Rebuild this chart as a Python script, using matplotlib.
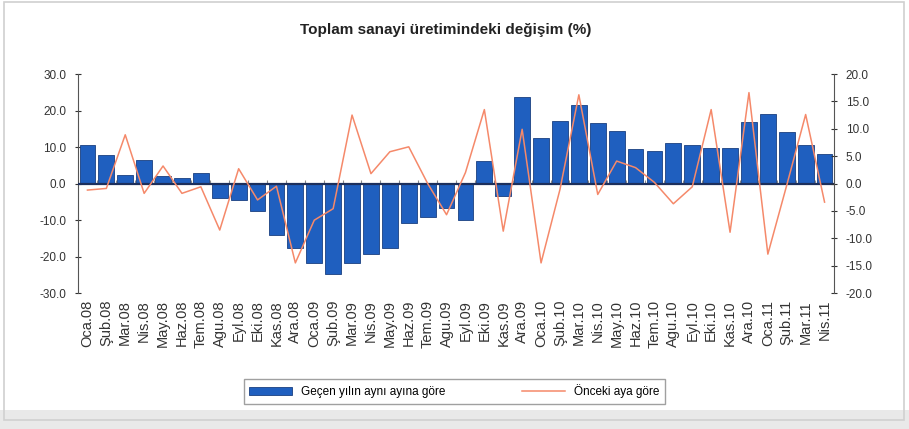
import numpy as np
import matplotlib
matplotlib.use("Agg")
import matplotlib.pyplot as plt
from matplotlib.patches import Rectangle

plt.rcParams['font.family'] = ['Liberation Sans', 'DejaVu Sans']

months = ["Oca.08", "Şub.08", "Mar.08", "Nis.08", "May.08", "Haz.08", "Tem.08", "Agu.08", "Eyl.08", "Eki.08",
          "Kas.08", "Ara.08", "Oca.09", "Şub.09", "Mar.09", "Nis.09", "May.09", "Haz.09", "Tem.09", "Agu.09",
          "Eyl.09", "Eki.09", "Kas.09", "Ara.09", "Oca.10", "Şub.10", "Mar.10", "Nis.10", "May.10", "Haz.10",
          "Tem.10", "Agu.10", "Eyl.10", "Eki.10", "Kas.10", "Ara.10", "Oca.11", "Şub.11", "Mar.11", "Nis.11"]

# gecen yilin ayni ayina gore (sol eksen)
yoy = [10.6, 7.8, 2.3, 6.4, 2.1, 1.4, 2.9, -4.1, -4.6, -7.6,
       -14.2, -17.6, -21.9, -24.7, -21.9, -19.2, -17.8, -10.9, -9.2, -6.7,
       -10.1, 6.1, -3.5, 23.6, 12.4, 17.2, 21.6, 16.5, 14.4, 9.4,
       9.0, 11.2, 10.5, 9.6, 9.6, 16.8, 19.0, 14.0, 10.5, 8.2]

# onceki aya gore (sag eksen)
mom = [-1.2, -0.9, 8.9, -1.8, 3.2, -1.8, -0.6, -8.5, 2.7, -3.0,
       -0.5, -14.5, -6.7, -4.6, 12.5, 1.8, 5.8, 6.7, 0.0, -5.7,
       2.0, 13.5, -8.7, 9.9, -14.5, -1.1, 16.2, -2.0, 4.1, 2.9,
       0.2, -3.7, -0.6, 13.5, -8.9, 16.6, -12.9, -0.3, 12.6, -3.4]

left_ticks = [30, 20, 10, 0, -10, -20, -30]
right_ticks = [20, 15, 10, 5, 0, -5, -10, -15, -20]

fig = plt.figure(figsize=(9.09, 4.29), dpi=100)
fig.patch.set_facecolor("white")

# light gray band + frame like the original panel
fig.patches.append(Rectangle((0, 0), 1, 0.045, transform=fig.transFigure,
                             facecolor="#e9e9e9", edgecolor="none", zorder=0))
fig.patches.append(Rectangle((0.004, 0.02), 0.99, 0.975, transform=fig.transFigure,
                             facecolor="none", edgecolor="#d0d0d0", lw=1.2, zorder=0))

ax = fig.add_axes([0.0858, 0.317, 0.8317, 0.5105])
x = np.arange(len(months))
ax.bar(x, yoy, width=0.84, color="#1f5fbf", edgecolor="#1a3f80", linewidth=0.6,
       label="Geçen yılın aynı ayına göre", zorder=2)
ax.axhline(0, color="#1c2f5c", lw=1.6, zorder=3)
ax.vlines(np.arange(len(months) + 1) - 0.5, 0, 0.9, color="#888888", lw=0.8, zorder=1)
ax.set_ylim(-30, 30)
ax.set_xlim(-0.5, len(months) - 0.5)
ax.set_yticks(left_ticks)
ax.set_yticklabels(["%.1f" % v for v in left_ticks])
ax.set_xticks(x)
ax.set_xticklabels(months, rotation=90, fontsize=10.5, color="#333333")
ax.tick_params(axis="x", length=0, pad=5)
ax.tick_params(axis="y", direction="inout", length=5, labelsize=8.5, colors="#333333", pad=6)
for s in ["top", "bottom"]:
    ax.spines[s].set_visible(False)
ax.spines["left"].set_color("#555555")
ax.spines["right"].set_visible(False)

ax2 = ax.twinx()
ax2.plot(x, mom, color="#f5896a", lw=1.1, label="Önceki aya göre", zorder=4)
ax2.set_ylim(-20, 20)
ax2.set_yticks(right_ticks)
ax2.set_yticklabels(["%.1f" % v for v in right_ticks])
ax2.tick_params(axis="y", direction="inout", length=5, labelsize=8.5, colors="#333333", pad=6)
for s in ["top", "bottom", "left"]:
    ax2.spines[s].set_visible(False)
ax2.spines["right"].set_color("#555555")

fig.text(0.49, 0.93, "Toplam sanayi üretimindeki değişim (%)", ha="center", va="center",
         fontsize=11, fontweight="bold", color="#222222")

h1, l1 = ax.get_legend_handles_labels()
h2, l2 = ax2.get_legend_handles_labels()
leg = fig.legend(h1 + h2, l1 + l2, loc="center", bbox_to_anchor=(0.5, 0.088), ncol=2,
                 fontsize=8.5, frameon=True, fancybox=False, handlelength=3.6,
                 handleheight=0.6, columnspacing=6.5, borderpad=0.45)
leg.get_frame().set_edgecolor("#888888")
leg.get_frame().set_linewidth(1.0)

fig.savefig("out.png", dpi=100)
